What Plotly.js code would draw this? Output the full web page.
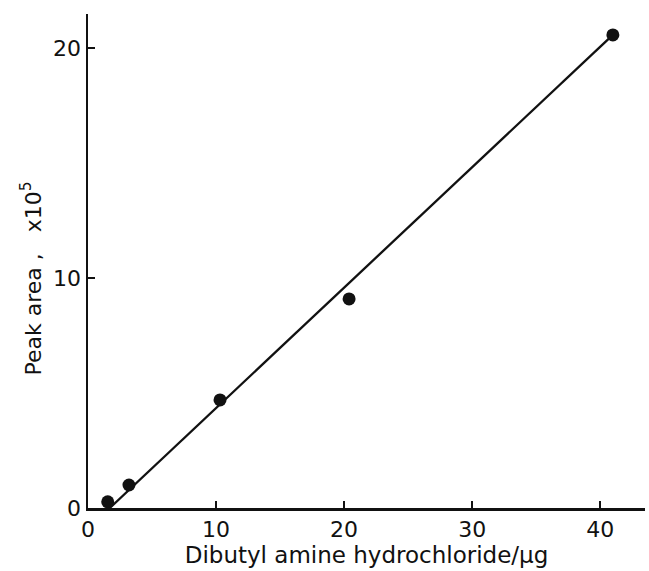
<!DOCTYPE html>
<html>
<head>
<meta charset="utf-8">
<script src="https://cdn.plot.ly/plotly-3.0.1.min.js"></script>
<style>html,body{margin:0;padding:0;background:#fff;}#chart{width:649px;height:571px;}</style>
</head>
<body>
<div id="chart"></div>
<script>
// Measured data points
var amountUg = [1.54, 3.2, 10.31, 20.39, 40.99];
var peakArea = [0.27, 1.0, 4.70, 9.09, 20.57];
// Calibration line end points
var fitX = [1.7, 40.99];
var fitY = [0, 20.57];
var xTicks = [0, 10, 20, 30, 40];
var yTicks = [0, 10, 20];

var font = {family: 'DejaVu Sans, sans-serif', color: '#111'};

var traces = [
  {x: fitX, y: fitY, mode: 'lines', line: {color: '#111', width: 2.3}, hoverinfo: 'skip', showlegend: false},
  {x: amountUg, y: peakArea, mode: 'markers', marker: {color: '#111', size: 13}, showlegend: false}
];

var layout = {
  width: 649, height: 571,
  margin: {l: 88, r: 4, t: 14, b: 63},
  paper_bgcolor: '#fff', plot_bgcolor: '#fff',
  font: font,
  xaxis: {
    range: [0, 43.5], tickvals: xTicks, ticktext: xTicks.map(String),
    ticks: 'inside', ticklen: 7, tickwidth: 1.5, tickcolor: '#111',
    showline: true, linecolor: '#111', linewidth: 2.5,
    showgrid: false, zeroline: false,
    tickfont: {family: font.family, size: 22, color: '#111'},
    ticklabelstandoff: 0,
    title: {text: 'Dibutyl amine hydrochloride/μg', font: {family: font.family, size: 23, color: '#111'}, standoff: 6}
  },
  yaxis: {
    range: [0, 21.48], tickvals: yTicks, ticktext: yTicks.map(String),
    ticks: 'inside', ticklen: 7, tickwidth: 1.5, tickcolor: '#111',
    showline: true, linecolor: '#111', linewidth: 2.5,
    showgrid: false, zeroline: false,
    tickfont: {family: font.family, size: 22, color: '#111'},
    title: {text: 'Peak area ,\u00a0\u00a0 x10<sup>5</sup>\u00a0\u00a0\u00a0\u00a0<span style="color:rgba(0,0,0,0)">.</span>', font: {family: font.family, size: 22, color: '#111'}, standoff: 6}
  }
};

Plotly.newPlot('chart', traces, layout, {displayModeBar: false, staticPlot: true});
</script>
</body>
</html>
